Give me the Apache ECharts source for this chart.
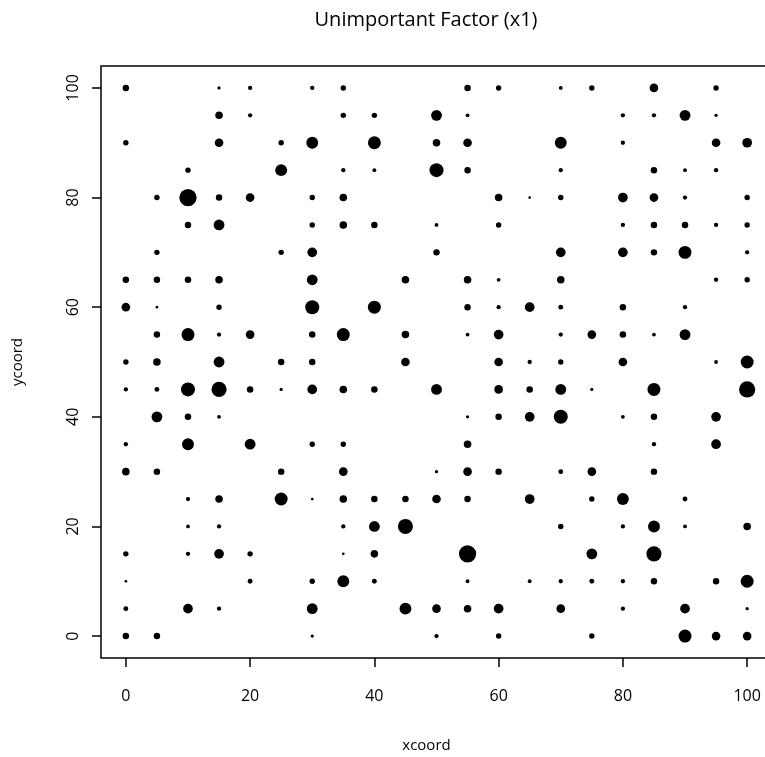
<!DOCTYPE html>
<html>
<head>
<meta charset="utf-8">
<script src="https://cdn.jsdelivr.net/npm/echarts@6/dist/echarts.min.js"></script>
<style>
html,body{margin:0;padding:0;background:#fff;overflow:hidden;}
#chart{width:780px;height:757px;}
</style>
</head>
<body>
<div id="chart"></div>
<script>
// Point grid (x, y) and the factor value at each point
const xcoord = [
  0,15,20,30,35,55,60,70,75,85,95,
  15,20,35,40,50,55,80,85,90,95,
  0,15,25,30,40,50,55,70,80,95,100,
  10,25,35,40,50,55,70,85,90,95,
  5,10,15,20,30,35,60,65,70,80,85,90,100,
  10,15,30,35,40,50,60,80,85,90,95,100,
  5,25,30,50,70,80,85,90,100,
  0,5,10,15,30,45,55,60,70,95,100,
  0,5,15,30,40,55,60,65,70,80,90,
  5,10,15,20,30,35,45,55,60,70,75,80,85,90,
  0,5,15,25,30,45,60,65,70,80,95,100,
  0,5,10,15,20,25,30,35,40,50,60,65,70,75,85,100,
  5,10,15,55,60,65,70,80,85,95,
  0,10,20,30,35,55,85,95,
  0,5,25,35,50,55,60,70,75,85,
  10,15,25,30,35,40,45,50,55,65,75,80,90,
  10,15,35,40,45,70,80,85,90,100,
  0,10,15,20,35,40,55,75,85,
  0,20,30,35,40,55,65,70,75,80,85,95,100,
  0,10,15,30,45,50,55,60,70,80,90,100,
  0,5,30,50,60,75,90,95,100
];
const ycoord = [
  100,100,100,100,100,100,100,100,100,100,100,
  95,95,95,95,95,95,95,95,95,95,
  90,90,90,90,90,90,90,90,90,90,90,
  85,85,85,85,85,85,85,85,85,85,
  80,80,80,80,80,80,80,80,80,80,80,80,80,
  75,75,75,75,75,75,75,75,75,75,75,75,
  70,70,70,70,70,70,70,70,70,
  65,65,65,65,65,65,65,65,65,65,65,
  60,60,60,60,60,60,60,60,60,60,60,
  55,55,55,55,55,55,55,55,55,55,55,55,55,55,
  50,50,50,50,50,50,50,50,50,50,50,50,
  45,45,45,45,45,45,45,45,45,45,45,45,45,45,45,45,
  40,40,40,40,40,40,40,40,40,40,
  35,35,35,35,35,35,35,35,
  30,30,30,30,30,30,30,30,30,30,
  25,25,25,25,25,25,25,25,25,25,25,25,25,
  20,20,20,20,20,20,20,20,20,20,
  15,15,15,15,15,15,15,15,15,
  10,10,10,10,10,10,10,10,10,10,10,10,10,
  5,5,5,5,5,5,5,5,5,5,5,5,
  0,0,0,0,0,0,0,0,0
];
const factorX1 = [
  6,3,4,4,5,6,5,3.5,5,8,5,
  7,4,5,5,10,3.5,4,4,10,3,
  5,8,5,11,12,7,8,11,4,8,9,
  5,11,4,3.5,13,6,4,6,3.5,4,
  5,16,6,8,5,7,7,2.5,5,9,8,4,5,
  6,10,5,7,6,3.5,5,4,6,6,4,5,
  5,5,9,6,9,9,6,12,4,
  6,6,6,7,10,7,7,3.5,7,4,5,
  8,2.5,5,13,12,6,4,9,4.5,6,4,
  6,12,4,8,6,12,7,3.5,9,4,8,6,3.5,10,
  5,7,10,6,6,8,8,4,5,8,3.5,12,
  4,4.5,13,14,6,3,9,7,6,10,8,6,10,3,12,15,
  10,6,3.5,3,6,9,13,3.5,6,9,
  4,11,10,5,5,7,4,9,
  7,6,6,8,3,8,6,4.5,8,6,
  4,7,12,2.5,7,6,6,8,6,9,5,11,4.5,
  3.5,4,4,10,14,5,4,11,3.5,7,
  5,4,9,5,2.5,7,16,10,14,
  2.5,4.5,5,11,4.5,3.5,3.5,4,4.5,4,6,6,12,
  4.5,9,4,10,11,8,7,9,8,4,9,3,
  6,6,3,4,5,5,12,8,8
];
// tick labels: 0, 20, 40, 60, 80, 100 on both axes
const tickMin = 0, tickMax = 100, tickStep = 20;
// plotting range (R-style 4% padding)
const rangeMin = -4, rangeMax = 104;

const points = xcoord.map((x, i) => [x, ycoord[i], factorX1[i]]);
const SIZE_SCALE = 1.08;
const FONT = '"Open Sans", "Noto Sans", sans-serif';

// layout
const BOX = {left: 101, top: 66, width: 671, height: 592};
const TICK = 9;
const pxPerUnitX = BOX.width / (rangeMax - rangeMin);
const pxPerUnitY = BOX.height / (rangeMax - rangeMin);

const chart = echarts.init(document.getElementById('chart'), null, {renderer: 'canvas'});
chart.setOption({
  animation: false,
  backgroundColor: '#fff',
  title: {
    text: 'Unimportant Factor (x1)',
    left: 421,
    top: 5,
    textAlign: 'center',
    textStyle: {fontFamily: FONT, fontSize: 20, fontWeight: 'normal', color: '#000'}
  },
  grid: [
    // main plotting box
    {left: BOX.left, top: BOX.top, width: BOX.width, height: BOX.height,
     outerBoundsMode: 'none', containLabel: false,
     show: true, borderColor: '#000', borderWidth: 1.5, backgroundColor: 'transparent'},
    // x tick span (0..100), extended below the box by the tick length
    {left: BOX.left + (tickMin - rangeMin) * pxPerUnitX,
     width: (tickMax - tickMin) * pxPerUnitX,
     top: BOX.top, height: BOX.height + TICK, outerBoundsMode: 'none', containLabel: false, show: false},
    // y tick span (0..100), extended left of the box by the tick length
    {left: BOX.left - TICK, width: BOX.width + TICK,
     top: BOX.top + (rangeMax - tickMax) * pxPerUnitY,
     height: (tickMax - tickMin) * pxPerUnitY, outerBoundsMode: 'none', containLabel: false, show: false}
  ],
  xAxis: [
    {gridIndex: 0, type: 'value', min: rangeMin, max: rangeMax, show: false},
    {gridIndex: 1, type: 'value', min: tickMin, max: tickMax, interval: tickStep,
     name: 'xcoord', nameLocation: 'middle', nameGap: 80 - TICK,
     nameTextStyle: {fontFamily: FONT, fontSize: 15, color: '#000', padding: [0, 20, 0, 0]},
     axisLine: {show: false},
     axisTick: {show: true, inside: true, length: TICK, lineStyle: {color: '#000', width: 1.5}},
     axisLabel: {margin: 30 - TICK, fontFamily: FONT, fontSize: 16, color: '#000'},
     splitLine: {show: true, lineStyle: {color: 'rgba(0,0,0,0)'}}},
    {gridIndex: 2, type: 'value', min: tickMin, max: tickMax, show: false}
  ],
  yAxis: [
    {gridIndex: 0, type: 'value', min: rangeMin, max: rangeMax, show: false},
    {gridIndex: 1, type: 'value', min: tickMin, max: tickMax, show: false},
    {gridIndex: 2, type: 'value', min: tickMin, max: tickMax, interval: tickStep,
     name: 'ycoord', nameLocation: 'middle', nameGap: 76 - TICK,
     nameTextStyle: {fontFamily: FONT, fontSize: 15, color: '#000'},
     axisLine: {show: false},
     axisTick: {show: true, inside: true, length: TICK, lineStyle: {color: '#000', width: 1.5}},
     axisLabel: {margin: 20 - TICK, rotate: 90, fontFamily: FONT, fontSize: 16, color: '#000'},
     splitLine: {show: true, lineStyle: {color: 'rgba(0,0,0,0)'}}}
  ],
  series: [{
    type: 'scatter',
    xAxisIndex: 0, yAxisIndex: 0,
    data: points,
    symbol: 'circle',
    symbolSize: d => d[2] * SIZE_SCALE,
    itemStyle: {color: '#000', opacity: 1},
    silent: true
  }]
});
</script>
</body>
</html>
